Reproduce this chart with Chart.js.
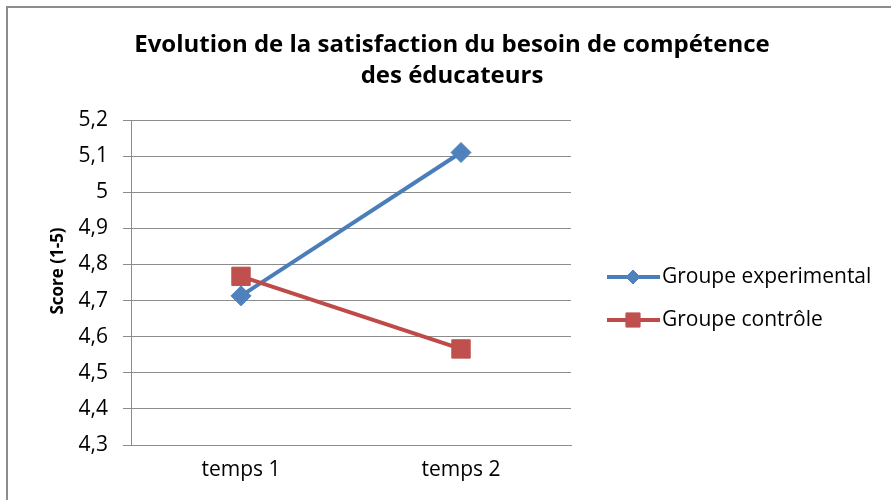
<!DOCTYPE html>
<html>
<head>
<meta charset="utf-8">
<script src="https://cdn.jsdelivr.net/npm/chart.js@4"></script>
<style>
  html, body { margin: 0; padding: 0; background: #fff; }
  #wrap { position: relative; width: 891px; height: 500px; overflow: hidden; }
  #frame { position: absolute; left: 6px; top: 6px; right: 0; bottom: -10px;
           border-left: 2px solid #8c8c8c; border-top: 2px solid #8c8c8c; pointer-events: none; }
</style>
</head>
<body>
<div id="wrap">
  <canvas id="chart" width="891" height="500"></canvas>
  <div id="frame"></div>
</div>
<script>
// Data
const periods = ['temps 1', 'temps 2'];
const experimentalScores = [4.713, 5.11];
const controlScores = [4.767, 4.566];
const seriesNames = ['Groupe experimental', 'Groupe contrôle'];
const titleLines = ['Evolution de la satisfaction du besoin de compétence', 'des éducateurs'];
const yAxisTitle = 'Score (1-5)';

const FONT = "'Open Sans', 'Liberation Sans', sans-serif";
const BLUE = '#4a7ebb';
const RED = '#be4b48';

// Title, y axis title and legend are drawn by hand to sit like the original layout
const decorations = {
    id: 'decorations',
    afterDraw(chart) {
        const ctx = chart.ctx;
        ctx.save();
        ctx.fillStyle = '#000';
        ctx.textAlign = 'center';
        ctx.textBaseline = 'middle';
        ctx.font = 'bold 24px ' + FONT;
        ctx.fillText(titleLines[0], 452, 45);
        ctx.fillText(titleLines[1], 452, 76);

        // y axis title
        ctx.save();
        ctx.translate(58, 271);
        ctx.rotate(-Math.PI / 2);
        ctx.font = 'bold 17px ' + FONT;
        ctx.fillText(yAxisTitle, 0, 0);
        ctx.restore();

        // legend
        const items = [
            { label: seriesNames[0], color: BLUE, fill: '#4f81bd', style: 'rectRot', r: 7, y: 277 },
            { label: seriesNames[1], color: RED, fill: '#c0504d', style: 'rect', r: 10, y: 320 }
        ];
        items.forEach(it => {
            ctx.strokeStyle = it.color;
            ctx.lineWidth = 4;
            ctx.beginPath();
            ctx.moveTo(607, it.y);
            ctx.lineTo(660, it.y);
            ctx.stroke();
            ctx.fillStyle = it.fill;
            ctx.strokeStyle = it.fill;
            ctx.lineWidth = 1;
            Chart.helpers.drawPoint(ctx, { pointStyle: it.style, radius: it.r, borderWidth: 1 }, 633, it.y);
            ctx.fillStyle = '#000';
            ctx.textAlign = 'left';
            ctx.font = '21px ' + FONT;
            ctx.fillText(it.label, 662, it.y);
        });
        ctx.restore();
    }
};

new Chart(document.getElementById('chart').getContext('2d'), {
    type: 'line',
    data: {
        labels: periods,
        datasets: [
            {
                label: seriesNames[0],
                data: experimentalScores,
                borderColor: BLUE,
                backgroundColor: '#4f81bd',
                borderWidth: 4,
                pointStyle: 'rectRot',
                pointRadius: 10,
                pointBorderWidth: 1,
                pointBorderColor: '#4f81bd',
                tension: 0,
                order: 1
            },
            {
                label: seriesNames[1],
                data: controlScores,
                borderColor: RED,
                backgroundColor: '#c0504d',
                borderWidth: 4,
                pointStyle: 'rect',
                pointRadius: 13,
                pointBorderWidth: 1,
                pointBorderColor: '#c0504d',
                tension: 0,
                order: 0
            }
        ]
    },
    options: {
        responsive: false,
        animation: false,
        layout: { padding: { left: 43, top: 120, right: 320, bottom: 10 } },
        plugins: {
            legend: { display: false },
            title: { display: false },
            tooltip: { enabled: false }
        },
        scales: {
            x: {
                offset: true,
                afterFit(axis) { axis.height = 45; },
                grid: { display: true, drawOnChartArea: false, drawTicks: false },
                border: { display: true, color: '#8c8c8c', width: 1 },
                ticks: { padding: 12, color: '#000', font: { family: FONT, size: 21 } }
            },
            y: {
                min: 4.3,
                max: 5.2,
                afterFit(axis) { axis.width = 88; },
                grid: { color: '#8c8c8c', tickLength: 8 },
                border: { display: true, color: '#8c8c8c', width: 1 },
                ticks: {
                    stepSize: 0.1,
                    padding: 15,
                    color: '#000',
                    font: { family: FONT, size: 21 },
                    callback: v => String(Number(v.toFixed(1))).replace('.', ',')
                },
                title: { display: false }
            }
        }
    },
    plugins: [decorations]
});
</script>
</body>
</html>
